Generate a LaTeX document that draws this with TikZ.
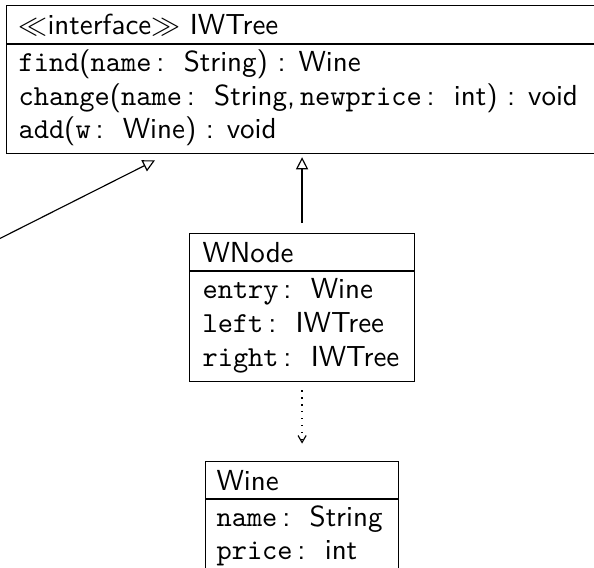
\documentclass[tikz,border=0pt]{standalone}
\usepackage{amsmath}
\usepackage{amssymb}
\usetikzlibrary{arrows.meta,calc}
\renewcommand{\familydefault}{\sfdefault}
\newcommand{\pxu}{0.345pt}

\tikzset{
    classpart/.style={draw, rectangle, anchor=north west, inner sep=0pt},
    rowtext/.style={anchor=base west, inner sep=0pt},
    implements/.style={-{Triangle[open, length=4.2pt, width=4.2pt]}},
    uses/.style={dotted, -{Straight Barb[length=2.4pt, width=2.8pt]}}
}

\begin{document}
\begin{tikzpicture}[x=\pxu, y=-\pxu]
        \useasboundingbox (0,0) rectangle (594,568);
        \clip (0,0) rectangle (594,568);
        % Draw the interface box
        \node[classpart, minimum width=620*\pxu, minimum height=38*\pxu] (iwhead) at (6,5) {};
        \node[classpart, minimum width=620*\pxu, minimum height=109*\pxu] (iwbody) at (iwhead.south west) {};
        \node[rowtext] (iwname) at (18,34.5) {$\ll$interface$\gg$ IWTree};
        \foreach \y/\t [count=\i] in {71.5/{\texttt{find}(\texttt{name}\,:\ \ String) : Wine},
                105/{\texttt{change}(\texttt{name}\,:\ \ String,\,\texttt{newprice}\,:\ \ int) : void},
                138.5/{\texttt{add}(\texttt{w}\,:\ \ Wine) : void}} {
            \node[rowtext] (iwop\i) at (18,\y) {\t};
        }
        % Draw the WNode class
        \node[classpart, minimum width=225*\pxu, minimum height=37*\pxu] (wnhead) at (189,233) {};
        \node[classpart, minimum width=225*\pxu, minimum height=110*\pxu] (wnbody) at (wnhead.south west) {};
        \node[rowtext] (wnname) at (202,262.5) {WNode};
        \foreach \y/\t [count=\i] in {298.5/{\texttt{entry}\,:\ \ Wine},
                332.5/{\texttt{left}\,:\ \ IWTree},
                366.5/{\texttt{right}\,:\ \ IWTree}} {
            \node[rowtext] (wnfield\i) at (202,\y) {\t};
        }
        % Draw the Wine class
        \node[classpart, minimum width=193*\pxu, minimum height=37*\pxu] (winehead) at (205,461) {};
        \node[classpart, minimum width=193*\pxu, minimum height=80*\pxu] (winebody) at (winehead.south west) {};
        \node[rowtext] (winename) at (216,490.5) {Wine};
        \foreach \y/\t [count=\i] in {526.5/{\texttt{name}\,:\ \ String},
                559.5/{\texttt{price}\,:\ \ int}} {
            \node[rowtext] (winefield\i) at (216,\y) {\t};
        }
        % Arrows
        \coordinate (mtwine) at (-40,258.6);
        \draw[implements] (mtwine) -- ($(iwbody.south west)+(149,6)$);
        \draw[implements, shorten <=3.4pt, shorten >=1pt] (wnhead.north) -- (wnhead.north |- iwbody.south);
        \draw[uses, shorten <=2.8pt, shorten >=6pt] (wnbody.south) -- (winehead.north);
    \end{tikzpicture}
\end{document}
